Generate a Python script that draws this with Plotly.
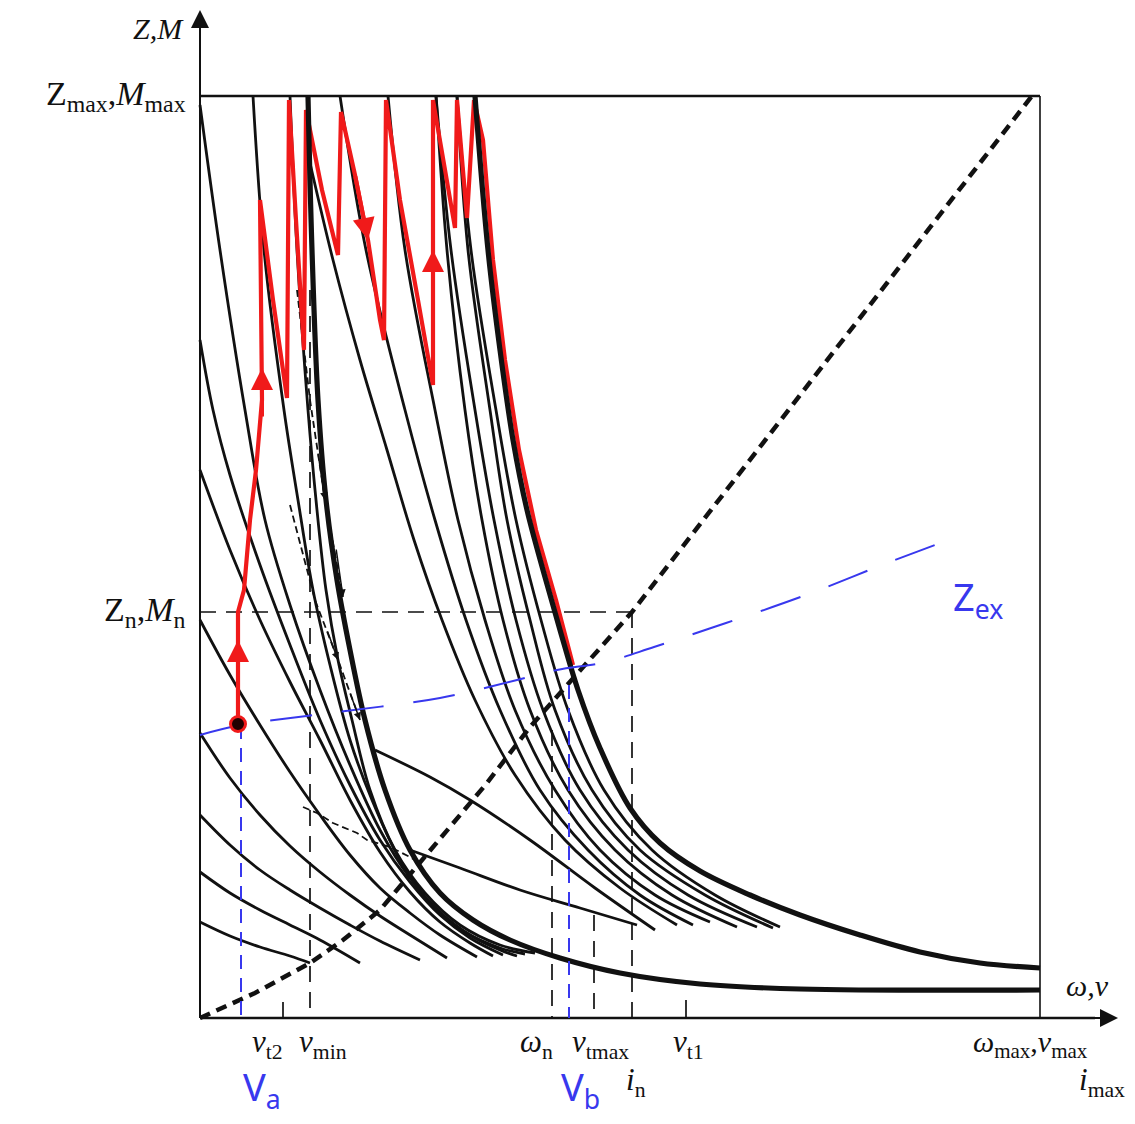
import plotly.graph_objects as go

# ---------------- data (speed v / tractive effort Z, arbitrary units) ----------------
V_MAX = 840          # omega_max, v_max
Z_MAX = 922          # Z_max, M_max
Z_N = 406            # Z_n, M_n
V_IN = 432           # i_n
V_OMEGA_N = 352
V_TMAX = 394
V_MIN = 110
V_T2 = 83
V_T1 = 486
V_A = 41
V_B = 369

# thick envelope curves
U_v = [275, 288, 300, 313, 327, 343, 360, 378, 400, 430, 460, 500, 550, 600, 660, 720, 780, 840]
U_z = [922, 768, 668, 578, 508, 448, 388, 328, 270, 210, 175, 147, 123, 103, 83, 66, 55, 50]
W_v = [108, 112, 118, 126, 137, 150, 165, 185, 210, 240, 273, 310, 360, 420, 500, 600, 840]
W_z = [922, 768, 618, 518, 438, 368, 298, 228, 168, 125, 98, 78, 60, 45, 34, 29, 28]

# upper family (gear curves right of W)
B_v = [110, 133, 160, 187, 214, 242, 275, 315, 365, 420, 477]
B_z = [855, 758, 658, 568, 478, 398, 318, 243, 178, 130, 93]
T4_v = [140, 166, 205, 235, 266, 300, 340, 388, 440, 493]
T4_z = [922, 768, 608, 498, 398, 308, 228, 168, 123, 93]
T5_v = [188, 205, 235, 258, 285, 315, 355, 400, 455, 510]
T5_z = [922, 768, 608, 498, 398, 308, 228, 168, 123, 96]
T6b_v = [236, 247, 265, 282, 303, 330, 368, 415, 472, 537]
T6b_z = [922, 768, 608, 498, 398, 308, 228, 168, 123, 91]
T6a_v = [236, 251, 275, 294, 316, 343, 380, 428, 488, 557]
T6a_z = [922, 768, 608, 498, 398, 308, 228, 168, 123, 91]
T7b_v = [257, 268, 290, 307, 330, 355, 392, 440, 505, 573]
T7b_z = [922, 768, 608, 498, 398, 308, 228, 168, 123, 90]
T7a_v = [257, 271, 296, 316, 341, 368, 404, 452, 515, 580]
T7a_z = [922, 768, 608, 498, 398, 308, 228, 168, 123, 91]
F_v = [175, 230, 270, 330, 395, 455]
F_z = [268, 241, 218, 178, 130, 88]
G_v = [210, 260, 320, 380, 437]
G_z = [168, 150, 128, 110, 93]

# lower family (gear curves left of W)
T2_v = [90, 97, 108, 116, 126, 138, 152, 170, 195, 225, 260, 300, 335]
T2_z = [922, 768, 608, 518, 428, 358, 298, 228, 168, 125, 93, 73, 65]
T1_v = [53, 64, 84, 98, 113, 130, 150, 172, 200, 230, 265, 300, 325]
T1_z = [922, 768, 608, 518, 428, 353, 278, 218, 158, 115, 86, 70, 64]
L1_v = [0, 20, 45, 65, 90, 120, 150, 180, 210, 240, 270, 300, 317]
L1_z = [913, 768, 608, 498, 413, 328, 253, 188, 140, 106, 83, 68, 62]
L2_v = [0, 13, 30, 60, 90, 120, 150, 180, 210, 240, 270, 303]
L2_z = [678, 608, 543, 453, 373, 298, 233, 178, 136, 103, 80, 63]
L3_v = [0, 30, 60, 90, 120, 150, 180, 210, 240, 270, 293]
L3_z = [548, 468, 398, 336, 278, 218, 166, 126, 96, 75, 62]
L4_v = [0, 30, 60, 90, 120, 150, 180, 210, 240, 277]
L4_z = [398, 343, 293, 246, 203, 163, 130, 105, 83, 61]
L5_v = [0, 30, 60, 90, 120, 150, 180, 210, 247]
L5_z = [285, 240, 203, 172, 146, 123, 102, 83, 60]
L6_v = [0, 30, 60, 90, 120, 150, 180, 220]
L6_z = [203, 173, 148, 128, 110, 93, 77, 58]
L7_v = [0, 30, 60, 90, 120, 160]
L7_z = [146, 125, 108, 93, 78, 55]
L8_v = [0, 30, 60, 90, 110]
L8_z = [96, 82, 71, 62, 55]

# red operating path (gear shifting saw-tooth)
red_v = [38, 38, 44, 50, 56, 62, 60, 73, 87, 89, 96, 104, 106, 122, 138, 141, 155, 168, 180, 184,
         186, 200, 218, 233, 233, 245, 255, 257, 262, 267, 274, 283, 293, 305, 319, 336, 356, 373]
red_z = [294, 406, 428, 498, 548, 618, 818, 718, 620, 918, 798, 668, 908, 828, 763, 906, 843, 778, 698, 678,
         918, 818, 718, 633, 918, 848, 790, 918, 858, 800, 918, 878, 758, 658, 568, 488, 418, 353]

# dotted limit line
lim_v = [0, 55, 110, 143, 180, 230, 287, 330, 373, 400, 432, 835]
lim_z = [0, 25, 55, 78, 108, 168, 235, 291, 340, 370, 406, 926]

# Z_ex (blue)
zex_v = [0, 41, 130, 240, 317, 357, 406, 454, 526, 606, 682, 759]
zex_z = [283, 293, 305, 320, 338, 348, 356, 371, 395, 423, 453, 482]

# dashed auxiliary paths with arrows
D1_v = [97, 110, 125, 143]
D1_z = [728, 618, 518, 421]
D2_v = [90, 115, 138, 160]
D2_z = [513, 418, 358, 298]
D3_v = [103, 117, 133, 157, 167, 190, 210, 220]
D3_z = [211, 205, 195, 185, 178, 171, 161, 155]

# ---------------- figure ----------------
BLACK = "#111111"
RED = "#f01a1a"
BLUE = "#3838ee"
SERIF = "Liberation Serif"

fig = go.Figure()


def line(x, y, color=BLACK, width=2.8, dash="solid", shape="spline"):
    ln = dict(color=color, width=width, dash=dash, shape=shape)
    if shape == "spline":
        ln["smoothing"] = 1.0
    fig.add_trace(go.Scatter(x=x, y=y, mode="lines", line=ln,
                             hoverinfo="skip", showlegend=False))


# frame + axes
line([0, V_MAX], [Z_MAX, Z_MAX], width=2.4, shape="linear")
line([V_MAX, V_MAX], [0, Z_MAX], width=1.6, shape="linear")
line([0, 0], [0, 985], width=2, shape="linear")
line([0, 895], [0, 0], width=2.4, shape="linear")

# thin gear curves
for vx, zy in [(B_v, B_z), (T4_v, T4_z), (T5_v, T5_z), (T6b_v, T6b_z), (T6a_v, T6a_z),
               (T7b_v, T7b_z), (T7a_v, T7a_z), (F_v, F_z), (G_v, G_z),
               (T2_v, T2_z), (T1_v, T1_z), (L1_v, L1_z), (L2_v, L2_z), (L3_v, L3_z),
               (L4_v, L4_z), (L5_v, L5_z), (L6_v, L6_z), (L7_v, L7_z), (L8_v, L8_z)]:
    line(vx, zy, width=2.8)

# dashed reference lines
DASH = "16px,10px"
line([0, V_IN], [Z_N, Z_N], width=1.7, dash=DASH, shape="linear")
line([V_IN, V_IN], [Z_N, 0], width=1.7, dash=DASH, shape="linear")
line([V_OMEGA_N, V_OMEGA_N], [288, 0], width=1.7, dash=DASH, shape="linear")
line([V_TMAX, V_TMAX], [103, 0], width=1.7, dash=DASH, shape="linear")
line([V_MIN, V_MIN], [728, 0], width=1.7, dash=DASH, shape="linear")
line([V_T2, V_T2], [0, 16], width=1.7, shape="linear")
line([V_T1, V_T1], [0, 18], width=1.7, shape="linear")

# dashed paths
for vx, zy in [(D1_v, D1_z), (D2_v, D2_z), (D3_v, D3_z)]:
    line(vx, zy, width=1.8, dash="7px,4px", shape="linear")

# red path
line(red_v, red_z, color=RED, width=4.2, shape="linear")

# thick curves
line(W_v, W_z, width=5.2)
line(U_v, U_z, width=5.2)

# dotted limit line
line(lim_v, lim_z, width=4.5, dash="11px,7px", shape="linear")

# blue lines
line(zex_v, zex_z, color=BLUE, width=2, dash="42px,30px", shape="spline")
line([V_A, V_A], [293, 0], color=BLUE, width=2, dash="14px,9px", shape="linear")
line([V_B, V_B], [333, 0], color=BLUE, width=2, dash="14px,9px", shape="linear")

# operating point
fig.add_trace(go.Scatter(x=[red_v[0]], y=[red_z[0]], mode="markers",
                         marker=dict(size=15, color="#220000", line=dict(color=RED, width=3)),
                         hoverinfo="skip", showlegend=False))

annotations = []
# axis arrowheads
for (x, y, ax, ay) in [(0, 1008, 0, 960), (918, 0, 870, 0)]:
    annotations.append(dict(x=x, y=y, ax=ax, ay=ay, xref="x", yref="y", axref="x", ayref="y",
                            showarrow=True, arrowhead=2, arrowsize=1.8, arrowwidth=2,
                            arrowcolor=BLACK, text=""))
# red arrows
for (x, y, ax, ay) in [(38, 378, 38, 320), (62, 650, 62, 600), (168, 778, 155, 843), (233, 768, 233, 710)]:
    annotations.append(dict(x=x, y=y, ax=ax, ay=ay, xref="x", yref="y", axref="x", ayref="y",
                            showarrow=True, arrowhead=2, arrowsize=1.1, arrowwidth=4,
                            arrowcolor=RED, text=""))
# small arrows on dashed paths
for (x, y, ax, ay) in [(125, 518, 118, 565), (143, 421, 136, 470), (138, 358, 127, 388), (160, 298, 150, 325)]:
    annotations.append(dict(x=x, y=y, ax=ax, ay=ay, xref="x", yref="y", axref="x", ayref="y",
                            showarrow=True, arrowhead=2, arrowsize=1.0, arrowwidth=1.5,
                            arrowcolor=BLACK, text=""))


def label(x, y, text, size=30, color=BLACK, xanchor="center", family=SERIF):
    annotations.append(dict(x=x, y=y, xref="x", yref="y", text=text, showarrow=False,
                            xanchor=xanchor, yanchor="middle",
                            font=dict(family=family, size=size, color=color)))


label(-14, 990, "<i>Z,M</i>", size=30, xanchor="right")
label(-12, 922, "Z<sub>max</sub>,<i>M</i><sub>max</sub>", size=34, xanchor="right")
label(-12, 406, "Z<sub>n</sub>,<i>M</i><sub>n</sub>", size=34, xanchor="right")
label(67, -26, "<i>v</i><sub>t2</sub>", size=31)
label(123, -26, "<i>v</i><sub>min</sub>", size=31)
label(336, -26, "<i>ω</i><sub>n</sub>", size=31)
label(400, -26, "<i>v</i><sub>tmax</sub>", size=31)
label(488, -26, "<i>v</i><sub>t1</sub>", size=31)
label(830, -26, "<i>ω</i><sub>max</sub>,<i>v</i><sub>max</sub>", size=30)
label(436, -64, "<i>i</i><sub>n</sub>", size=31)
label(902, -64, "<i>i</i><sub>max</sub>", size=31)
label(887, 33, "<i>ω,v</i>", size=30)
label(62, -70, "V<sub>a</sub>", size=38, color=BLUE, family="Noto Sans")
label(380, -70, "V<sub>b</sub>", size=38, color=BLUE, family="Noto Sans")
label(778, 420, "Z<sub>ex</sub>", size=38, color=BLUE, family="Noto Sans")

fig.update_layout(
    width=1135, height=1124,
    margin=dict(l=0, r=0, t=0, b=0),
    paper_bgcolor="white", plot_bgcolor="white",
    xaxis=dict(range=[-200, 935], visible=False, fixedrange=True),
    yaxis=dict(range=[-106, 1018], visible=False, fixedrange=True),
    annotations=annotations,
    showlegend=False,
)

fig.write_html("out.html")
